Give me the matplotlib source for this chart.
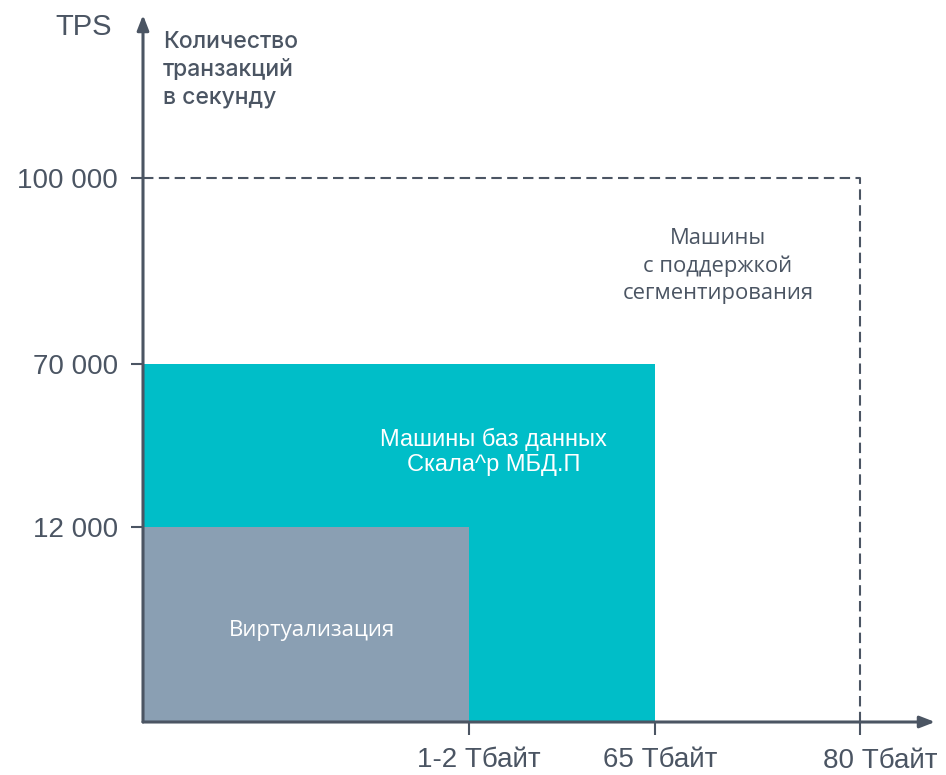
import numpy as np
import matplotlib
matplotlib.use("Agg")
import matplotlib.pyplot as plt
from matplotlib.transforms import ScaledTranslation

SANS = ["Liberation Sans", "DejaVu Sans"]
SOFT = ["Open Sans", "DejaVu Sans"]
plt.rcParams["font.family"] = SANS

# ---------- data ----------
x_tick_vals = [2, 65, 80]
x_tick_labels = ["1-2 Тбайт", "65 Тбайт", "80 Тбайт"]
y_tick_vals = [12000, 70000, 100000]
y_tick_labels = ["12 000", "70 000", "100 000"]

region_names = ["Виртуализация", "Машины баз данных\nСкала^р МБД.П",
                "Машины\nс поддержкой\nсегментирования"]
region_size_tb = [2, 65, 80]
region_tps = [12000, 70000, 100000]

# ---------- style ----------
AXIS_C = "#4b5563"
TEAL = "#00bec8"
GRAY = "#8a9fb3"

# piecewise (non-linear) axis scales: value knots -> pixel distance
X_KNOTS = [0, 2, 65, 80, 90]
X_PIX = [0, 326, 512, 717, 792]
Y_KNOTS = [0, 12000, 70000, 100000, 130000]
Y_PIX = [0, 195, 358, 544, 707]


def fwd(kn, px):
    return lambda v: np.interp(v, kn, px)


def inv(kn, px):
    return lambda p: np.interp(p, px, kn)


W, H = 946, 775
fig = plt.figure(figsize=(W / 100, H / 100), dpi=100)
ax = fig.add_axes([143 / W, (H - 722) / H, (935 - 143) / W, (722 - 15) / H])
ax.set_xscale("function", functions=(fwd(X_KNOTS, X_PIX), inv(X_KNOTS, X_PIX)))
ax.set_yscale("function", functions=(fwd(Y_KNOTS, Y_PIX), inv(Y_KNOTS, Y_PIX)))
ax.set_xlim(0, 90)
ax.set_ylim(0, 130000)

# ---------- regions ----------
ax.bar(0, region_tps[1], width=region_size_tb[1], align="edge", color=TEAL,
       linewidth=0, zorder=2)
ax.bar(0, region_tps[0], width=region_size_tb[0], align="edge", color=GRAY,
       linewidth=0, zorder=3)
ax.plot([0, region_size_tb[2], region_size_tb[2]], [region_tps[2], region_tps[2], 0],
        color=AXIS_C, lw=1.5, dashes=(5, 2.6), zorder=1)
ax.plot([0, 0], [0, region_tps[2]], color=AXIS_C, lw=1.5, dashes=(5, 2.6),
        zorder=1, transform=ax.transData + ScaledTranslation(-2 / 72, 0, fig.dpi_scale_trans))

# ---------- axes with arrows ----------
for s in ax.spines.values():
    s.set_visible(False)
arrow = dict(arrowstyle="-|>,head_length=0.9,head_width=0.35", color=AXIS_C,
             lw=2.2, shrinkA=0, shrinkB=0)
ax.annotate("", xy=(0, 1), xytext=(0, 0), xycoords="axes fraction",
            arrowprops=arrow, zorder=5)
ax.annotate("", xy=(1, 0), xytext=(0, 0), xycoords="axes fraction",
            arrowprops=arrow, zorder=5)

ax.set_xticks(x_tick_vals, x_tick_labels)
ax.set_yticks(y_tick_vals, y_tick_labels)
ax.tick_params(axis="x", length=9, width=1.5, color=AXIS_C, labelcolor=AXIS_C,
               labelsize=20, pad=9)
ax.tick_params(axis="y", length=9, width=1.5, color=AXIS_C, labelcolor=AXIS_C,
               labelsize=20, pad=9)
ax.minorticks_off()
for lab, dx, dy in zip(ax.get_xticklabels(), [10, 5, 20], [0, 0, -1]):
    lab.set_transform(lab.get_transform()
                      + ScaledTranslation(dx / 100, dy / 100, fig.dpi_scale_trans))

# ---------- texts ----------
ax.text(-0.0745, 0.983, "TPS", transform=ax.transAxes, ha="center", va="center",
        fontsize=21, color=AXIS_C)
ax.text(0.025, 0.978, "Количество\nтранзакций\nв секунду", transform=ax.transAxes,
        ha="left", va="top", fontsize=16.5, color=AXIS_C, fontweight="medium",
        family=["Inter", "DejaVu Sans"], linespacing=1.35)
ax.text(0.726, 0.645, region_names[2], transform=ax.transAxes, ha="center",
        va="center", fontsize=15.8, color=AXIS_C, family=SOFT, linespacing=1.38)
ax.text(0.443, 0.382, region_names[1], transform=ax.transAxes, ha="center",
        va="center", fontsize=17, color="white", linespacing=1.22, zorder=6)
ax.text(0.213, 0.130, region_names[0], transform=ax.transAxes, ha="center",
        va="center", fontsize=16, color="white", family=SOFT, zorder=6)

fig.savefig("out.png", dpi=100)
